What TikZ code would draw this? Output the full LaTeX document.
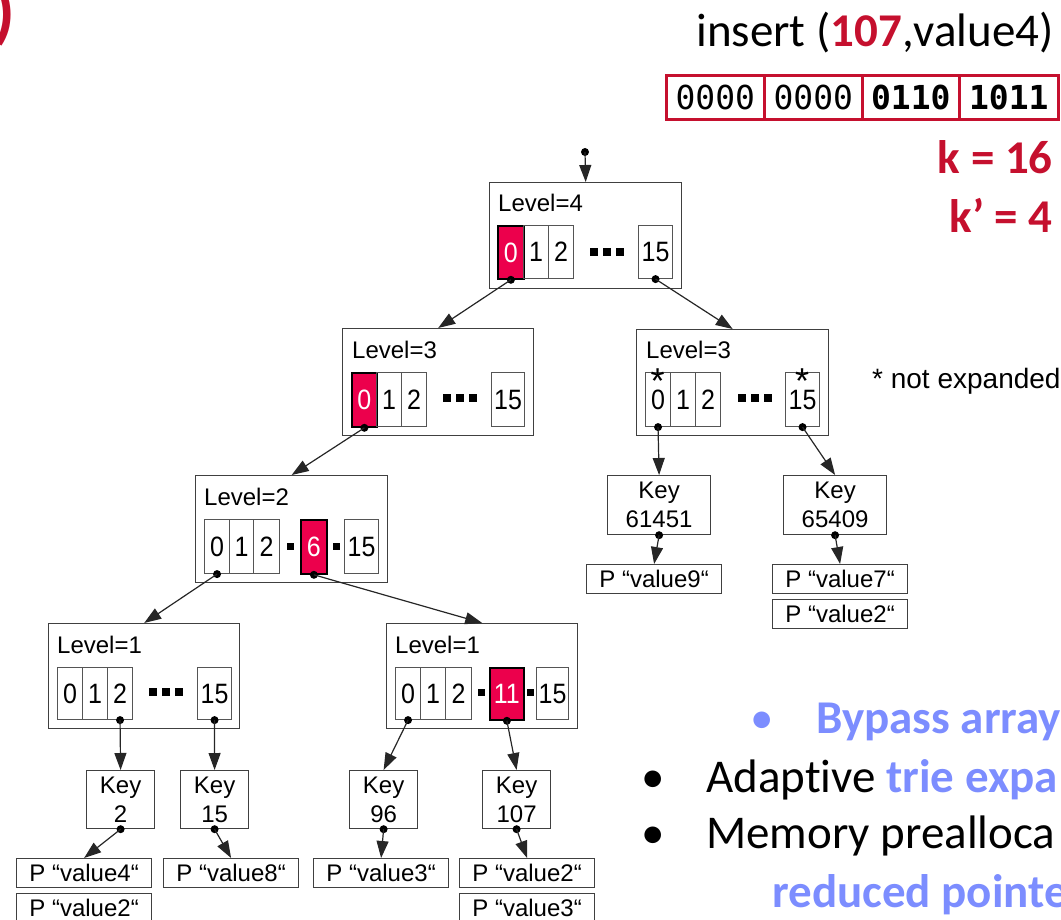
\documentclass[tikz,border=0pt]{standalone}
\usepackage{fontspec}
\usepackage{graphicx}
\setmainfont{Liberation Sans}
\newfontfamily\slidefont[Ligatures=NoCommon]{Carlito}
\newfontfamily\bitfont{DejaVu Sans Mono}
\usetikzlibrary{arrows.meta}
\definecolor{slidered}{RGB}{197,16,46}
\definecolor{hotred}{RGB}{236,0,76}
\definecolor{lightblue}{RGB}{124,141,255}
\definecolor{boxgray}{RGB}{64,64,64}
\definecolor{cellgray}{RGB}{85,85,85}
\newcommand{\fsz}[1]{\fontsize{#1}{#1}\selectfont}
\newcommand{\cnum}[1]{\scalebox{1}[1.12]{#1}}
\newcommand{\ellip}[2]{%
  \fill (#1-17,#2-4) rectangle (#1-9,#2+4);
  \fill (#1-4,#2-4) rectangle (#1+4,#2+4);
  \fill (#1+9,#2-4) rectangle (#1+17,#2+4);}
\newcommand{\sqdot}[2]{\fill (#1-3.5,#2-3.5) rectangle (#1+3.5,#2+3.5);}
\begin{document}
\begin{tikzpicture}[x=1pt,y=-1pt,
  lvlbox/.style={draw=boxgray, line width=1.4pt, minimum width=192pt, minimum height=106pt, inner sep=0pt, anchor=north west},
  cellbox/.style={draw=cellgray, line width=1.1pt, minimum height=53pt, inner sep=0pt, anchor=north west, font=\fsz{25}},
  hotcell/.style={cellbox, fill=hotred, draw=black, line width=1.8pt, text=white},
  lvllabel/.style={anchor=base west, inner sep=0pt, font=\fsz{24}},
  keybox/.style={draw=boxgray, line width=1.2pt, minimum width=68pt, minimum height=58pt, inner sep=0pt, anchor=north west, align=center, font=\fontsize{24}{29}\selectfont},
  pbox/.style={draw=boxgray, line width=1.2pt, minimum width=135pt, minimum height=29pt, inner sep=0pt, anchor=north west, font=\fsz{24}},
  pdot/.style={circle, fill=black, inner sep=0pt, minimum size=8pt},
  arr/.style={draw=black!85, line width=1.2pt, -{Triangle[length=17pt,width=12pt]}},
  bitcell/.style={draw=slidered, line width=2.6pt, minimum height=44pt, inner sep=0pt, anchor=north west, font=\bitfont\fsz{33}},
  slidetxt/.style={anchor=base west, inner sep=0pt, font=\slidefont\fsz{47}},
  star/.style={anchor=base, inner sep=0pt, font=\fsz{36}}
]
\useasboundingbox (0,0) rectangle (1061,920);
\clip (0,0) rectangle (1061,920);

% ---------- slide texts ----------
\node[anchor=base west, inner sep=0pt, text=slidered, font=\slidefont\bfseries\fsz{70}] (paren) at (-7,36) {)};
\node[anchor=base east, inner sep=0pt, font=\slidefont\fsz{47}] (ins) at (1054,47) {insert (\textcolor{slidered}{\bfseries 107},value4)};
\node[bitcell, minimum width=98pt] (bitA) at (665,74) {0000};
\node[bitcell, minimum width=98pt] (bitB) at (763,74) {0000};
\node[bitcell, minimum width=97pt, font=\bitfont\bfseries\fsz{33}] (bitC) at (861,74) {0110};
\node[bitcell, minimum width=99pt, font=\bitfont\bfseries\fsz{33}] (bitD) at (958,74) {1011};
\node[anchor=base east, inner sep=0pt, text=slidered, font=\slidefont\bfseries\fsz{47}] (kk) at (1053,174) {k = 16};
\node[anchor=base east, inner sep=0pt, text=slidered, font=\slidefont\bfseries\fsz{47}] (kp) at (1053,233) {k’ = 4};
\node[anchor=base west, inner sep=0pt, font=\fsz{28}] (ne) at (872,388) {* not expanded};

\node[slidetxt, text=lightblue] (bul1) at (750,733) {•};
\node[slidetxt, text=lightblue, font=\slidefont\bfseries\fsz{47}] (byp) at (816,733) {Bypass array};
\node[slidetxt] (bul2) at (641,792) {•};
\node[slidetxt] (adp) at (706,792) {Adaptive \textcolor{lightblue}{\bfseries trie expa}};
\node[slidetxt] (bul3) at (641,848) {•};
\node[slidetxt] (mem) at (706,848) {Memory prealloca};
\node[slidetxt, text=lightblue, font=\slidefont\bfseries\fsz{47}] (rdp) at (772,907) {reduced pointe};

% ---------- Level 4 ----------
\node[lvlbox] (L4) at (489,182) {};
\node[lvllabel] (L4t) at (498,212) {Level=4};
\node[hotcell, minimum width=26pt] (L4c0) at (497,225) {\cnum{0}};
\node[cellbox, minimum width=25pt] (L4c1) at (523,225) {\cnum{1}};
\node[cellbox, minimum width=25pt] (L4c2) at (548,225) {\cnum{2}};
\ellip{607}{252}
\node[cellbox, minimum width=34pt] (L4c15) at (638,225) {\cnum{15}};

% ---------- Level 3 left ----------
\node[lvlbox, minimum width=191pt, minimum height=107pt] (L3a) at (342,328) {};
\node[lvllabel] (L3at) at (352,358) {Level=3};
\node[hotcell, minimum width=25pt, minimum height=54pt] (L3ac0) at (351,372) {\cnum{0}};
\node[cellbox, minimum width=25pt, minimum height=54pt] (L3ac1) at (376,372) {\cnum{1}};
\node[cellbox, minimum width=25pt, minimum height=54pt] (L3ac2) at (401,372) {\cnum{2}};
\ellip{459.5}{398}
\node[cellbox, minimum width=33pt, minimum height=54pt] (L3ac15) at (491,372) {\cnum{15}};

% ---------- Level 3 right ----------
\node[lvlbox] (L3b) at (636,329) {};
\node[lvllabel] (L3bt) at (646,358) {Level=3};
\node[cellbox, minimum width=25pt, minimum height=54pt] (L3bc0) at (645,372) {\cnum{0}};
\node[cellbox, minimum width=25pt, minimum height=54pt] (L3bc1) at (670,372) {\cnum{1}};
\node[cellbox, minimum width=25pt, minimum height=54pt] (L3bc2) at (695,372) {\cnum{2}};
\ellip{754.5}{398}
\node[cellbox, minimum width=34pt, minimum height=54pt] (L3bc15) at (785,372) {\cnum{15}};
\node[star] (st0) at (657.5,393) {*};
\node[star] (st15) at (802,393) {*};

% ---------- Level 2 ----------
\node[lvlbox, minimum height=107pt] (L2) at (195,475) {};
\node[lvllabel] (L2t) at (204,505) {Level=2};
\node[cellbox, minimum width=25pt, minimum height=54pt] (L2c0) at (204,519) {\cnum{0}};
\node[cellbox, minimum width=24pt, minimum height=54pt] (L2c1) at (229,519) {\cnum{1}};
\node[cellbox, minimum width=26pt, minimum height=54pt] (L2c2) at (253,519) {\cnum{2}};
\sqdot{290}{546}
\node[hotcell, minimum width=26pt, minimum height=54pt] (L2c6) at (300,519) {\cnum{6}};
\sqdot{336}{546}
\node[cellbox, minimum width=34pt, minimum height=54pt] (L2c15) at (344,519) {\cnum{15}};

% ---------- Level 1 left ----------
\node[lvlbox, minimum width=191pt, minimum height=105pt] (L1a) at (48,623) {};
\node[lvllabel] (L1at) at (57,653) {Level=1};
\node[cellbox, minimum width=25pt, minimum height=52pt] (L1ac0) at (57,667) {\cnum{0}};
\node[cellbox, minimum width=25pt, minimum height=52pt] (L1ac1) at (82,667) {\cnum{1}};
\node[cellbox, minimum width=25pt, minimum height=52pt] (L1ac2) at (107,667) {\cnum{2}};
\ellip{166}{692}
\node[cellbox, minimum width=34pt, minimum height=52pt] (L1ac15) at (197,667) {\cnum{15}};

% ---------- Level 1 right ----------
\node[lvlbox, minimum width=191pt, minimum height=105pt] (L1b) at (386,623) {};
\node[lvllabel] (L1bt) at (395,653) {Level=1};
\node[cellbox, minimum width=25pt, minimum height=52pt] (L1bc0) at (395,667) {\cnum{0}};
\node[cellbox, minimum width=25pt, minimum height=52pt] (L1bc1) at (420,667) {\cnum{1}};
\node[cellbox, minimum width=26pt, minimum height=52pt] (L1bc2) at (445,667) {\cnum{2}};
\sqdot{481}{692}
\node[hotcell, minimum width=34pt, minimum height=52pt] (L1bc11) at (489,667) {\cnum{11}};
\sqdot{530}{692}
\node[cellbox, minimum width=32pt, minimum height=52pt] (L1bc15) at (536,667) {\cnum{15}};

% ---------- Key boxes ----------
\node[keybox] (K2) at (86,770) {Key\\2};
\node[keybox] (K15) at (180,770) {Key\\15};
\node[keybox] (K96) at (349,770) {Key\\96};
\node[keybox] (K107) at (482,770) {Key\\107};
\node[keybox, minimum width=103pt, minimum height=59pt] (K61451) at (607,475) {Key\\61451};
\node[keybox, minimum width=103pt, minimum height=59pt] (K65409) at (783,475) {Key\\65409};

% ---------- P boxes ----------
\node[pbox] (P4) at (16,858) {P “value4“};
\node[pbox] (P2a) at (16,893) {P “value2“};
\node[pbox] (P8) at (163,858) {P “value8“};
\node[pbox] (P3a) at (313,858) {P “value3“};
\node[pbox] (P2b) at (459,858) {P “value2“};
\node[pbox] (P3b) at (459,893) {P “value3“};
\node[pbox] (P9) at (586,564) {P “value9“};
\node[pbox] (P7) at (772,564) {P “value7“};
\node[pbox] (P2c) at (772,599) {P “value2“};

% ---------- dots ----------
\node[pdot] (d0) at (585,152) {};
\node[pdot] (dL4c0) at (L4c0.south) {};
\node[pdot] (dL4c15) at (L4c15.south) {};
\node[pdot] (dL3ac0) at (L3ac0.south) {};
\node[pdot] (dL3bc0) at (L3bc0.south) {};
\node[pdot] (dL3bc15) at (L3bc15.south) {};
\node[pdot] (dL2c0) at (L2c0.south) {};
\node[pdot] (dL2c6) at (L2c6.south) {};
\node[pdot] (dL1ac2) at (L1ac2.south) {};
\node[pdot] (dL1ac15) at (L1ac15.south) {};
\node[pdot] (dL1bc0) at (L1bc0.south) {};
\node[pdot] (dL1bc11) at (L1bc11.south) {};
\node[pdot] (dK2) at (K2.south) {};
\node[pdot] (dK15) at (K15.south) {};
\node[pdot] (dK96) at (K96.south) {};
\node[pdot] (dK107) at (K107.south) {};
\node[pdot] (dK61451) at (K61451.south) {};
\node[pdot] (dK65409) at (K65409.south) {};

% ---------- arrows ----------
\draw[arr] (d0.center) -- (L4.north);
\draw[arr] (dL4c0.center) -- (L3a.north);
\draw[arr] (dL4c15.center) -- (L3b.north);
\draw[arr] (dL3ac0.center) -- (L2.north);
\draw[arr] (dL3bc0.center) -- (K61451.north);
\draw[arr] (dL3bc15.center) -- (K65409.north);
\draw[arr] (dL2c0.center) -- (L1a.north);
\draw[arr] (dL2c6.center) -- (L1b.north);
\draw[arr] (dL1ac2.center) -- (K2.north);
\draw[arr] (dL1ac15.center) -- (K15.north);
\draw[arr] (dL1bc0.center) -- (K96.north);
\draw[arr] (dL1bc11.center) -- (K107.north);
\draw[arr] (dK2.center) -- (P4.north);
\draw[arr] (dK15.center) -- (P8.north);
\draw[arr] (dK96.center) -- (P3a.north);
\draw[arr] (dK107.center) -- (P2b.north);
\draw[arr] (dK61451.center) -- (P9.north);
\draw[arr] (dK65409.center) -- (P7.north);
\end{tikzpicture}
\end{document}
